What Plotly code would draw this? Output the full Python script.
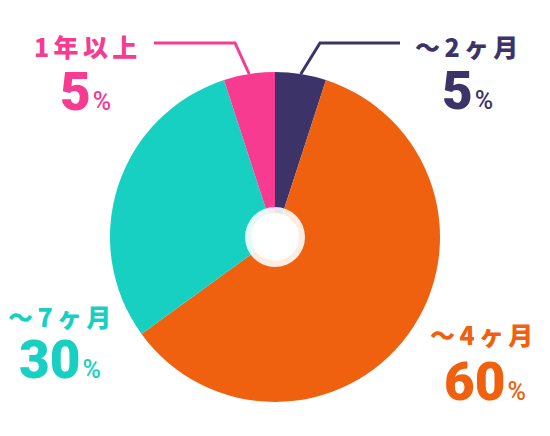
import math
import plotly.graph_objects as go

labels = ["～2ヶ月", "～4ヶ月", "～7ヶ月", "1年以上"]
values = [5, 60, 30, 5]
colors = ["#3c3469", "#ef600f", "#18d0c1", "#f63b91"]

W, H = 550, 436
OFF = 8  # page body margin
CX, CY, R = 275, 237, 165
CJK = "Noto Sans CJK JP"
NUM = "Roboto"

fig = go.Figure()
fig.add_trace(go.Pie(
    values=values, labels=labels, sort=False, direction="clockwise", rotation=0,
    marker=dict(colors=colors, line=dict(width=0)),
    textinfo="none", hoverinfo="label+percent", showlegend=False,
    domain=dict(x=[(CX - R - OFF) / W, (CX + R - OFF) / W],
                y=[1 - (CY + R - OFF) / H, 1 - (CY - R - OFF) / H]),
))

# helper axes in reference-pixel coordinates
fig.update_layout(
    width=W, height=H, margin=dict(l=0, r=0, t=0, b=0),
    paper_bgcolor="white", plot_bgcolor="rgba(0,0,0,0)",
    xaxis=dict(range=[OFF, W + OFF], visible=False, fixedrange=True),
    yaxis=dict(range=[H + OFF, OFF], visible=False, fixedrange=True),
)

# center hole
fig.add_shape(type="circle", xref="x", yref="y", x0=CX - 30, x1=CX + 30, y0=CY - 30, y1=CY + 30,
              fillcolor="rgba(255,255,255,0.88)", line=dict(width=0))
fig.add_shape(type="circle", xref="x", yref="y", x0=CX - 24, x1=CX + 24, y0=CY - 24, y1=CY + 24,
              fillcolor="white", line=dict(width=0))

# mid-angles of slices (degrees clockwise from top)
total = sum(values)
mids = []
acc = 0
for v in values:
    mids.append((acc + v / 2) / total * 360)
    acc += v

def edge(i):
    a = math.radians(mids[i])
    return CX + R * math.sin(a), CY - R * math.cos(a)

# leader lines for small slices
for i, (bx, hx) in {0: (320, 400), 3: (235, 154)}.items():
    sx, sy = edge(i)
    fig.add_shape(type="path", xref="x", yref="y",
                  path=f"M {sx:.1f} {sy:.1f} L {bx} 43 L {hx} 43",
                  line=dict(color=colors[i], width=3))

# (label center x, label y, number center x, number y)
label_pos = {0: (466, 46, 467, 91), 1: (481, 334, 485, 382), 2: (59, 316, 60, 360), 3: (85, 46, 85, 92)}
gap = "<span style='font-size:19px'> </span>"
for i, (lx, ly, nx, ny) in label_pos.items():
    spaced = gap.join(labels[i])
    fig.add_annotation(x=lx, y=ly, xref="x", yref="y", text=spaced, showarrow=False,
                       font=dict(family=CJK, size=25, color=colors[i], weight=900),
                       xanchor="center", yanchor="middle")
    fig.add_annotation(x=nx, y=ny, xref="x", yref="y",
                       text=f"{values[i]}<span style='font-size:8px'> </span>"
                            f"<span style='font-size:25px;font-weight:500'>%</span>",
                       showarrow=False, font=dict(family=NUM, size=53, color=colors[i], weight=900),
                       xanchor="center", yanchor="middle")

fig.write_html("out.html")
